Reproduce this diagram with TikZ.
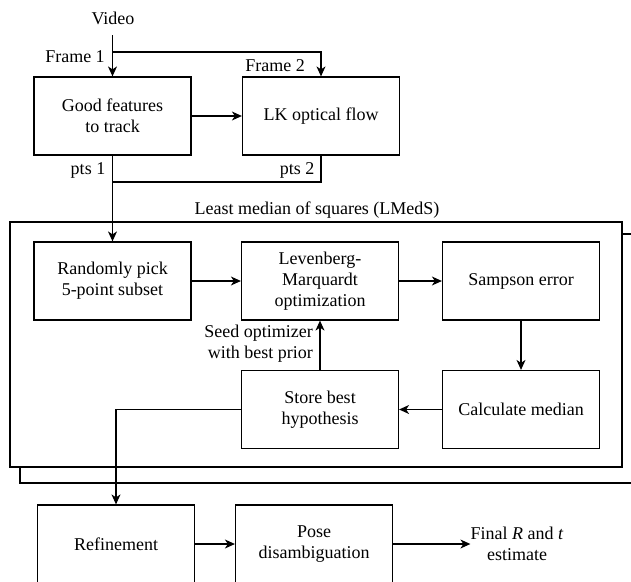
\documentclass[tikz,border=0pt]{standalone}
\usepackage{fontspec}
\setmainfont{Liberation Serif}
\usetikzlibrary{arrows.meta}
\begin{document}
\begin{tikzpicture}[x=1pt,y=-1pt,
  box/.style={draw,line width=1.2pt,minimum width=157pt,minimum height=78pt,align=center,inner sep=0pt,font=\fontsize{18}{21}\selectfont},
  lbl/.style={align=center,inner sep=0pt,font=\fontsize{18}{21}\selectfont},
  arr/.style={line width=1.2pt,-{Stealth[length=10pt,width=9pt,inset=3pt]}},
  ln/.style={line width=1.2pt},
  frm/.style={line width=1.2pt,draw,fill=white}]
\useasboundingbox (0,0) rectangle (631,581);
% LMedS frame with shadow
\path[frm] (20,234) rectangle (660,483);
\path[frm] (10,222) rectangle (622,467);
\node[lbl] (lmeds) at (317,210) {Least median of squares (LMedS)};
% top part
\node[lbl] (video) at (113,18) {Video};
\node[box] (gf) at (112.5,116) {Good features\\to track};
\node[box] (lk) at (321,116) {LK optical flow};
\coordinate (v1) at (112.5,35);
\coordinate (vb) at (112.5,52);
\draw[ln] (v1) -- (vb);
\draw[arr] (vb) -- (gf.north);
\draw[arr] (vb) -| (lk.north);
\node[lbl] (f1) at (75,57) {Frame 1};
\node[lbl] (f2) at (275,66) {Frame 2};
\draw[arr] (gf.east) -- (lk.west);
\node[lbl] (p1) at (88,170) {pts 1};
\node[lbl] (p2) at (297,170) {pts 2};
\coordinate (j) at (112.5,182);
\draw[ln] (lk.south) |- (j);
% LMedS boxes
\node[box] (rp) at (112.5,281) {Randomly pick\\5-point subset};
\node[box] (lm) at (320,281) {Levenberg-\\Marquardt\\optimization};
\node[box] (se) at (521,281) {Sampson error};
\node[box] (cm) at (521,409.5) {Calculate median};
\node[box] (sb) at (320,409.5) {Store best\\hypothesis};
\draw[arr] (gf.south) -- (rp.north);
\draw[arr] (rp.east) -- (lm.west);
\draw[arr] (lm.east) -- (se.west);
\draw[arr] (se.south) -- (cm.north);
\draw[arr] (cm.west) -- (sb.west -| sb.east);
\draw[arr] (sb.north) -- (lm.south);
\node[lbl,anchor=east,align=right] (seed) at (313,344) {Seed optimizer\\with best prior};
% bottom row
\node[box] (ref) at (116,544) {Refinement};
\node[box] (pose) at (314,544) {Pose\\disambiguation};
\node[lbl] (fin) at (517,544) {Final \textit{R} and \textit{t}\\estimate};
\draw[arr] (sb.west) -| (ref.north);
\draw[arr] (ref.east) -- (pose.west);
\draw[arr] (pose.east) -- (fin.west);
\end{tikzpicture}
\end{document}
